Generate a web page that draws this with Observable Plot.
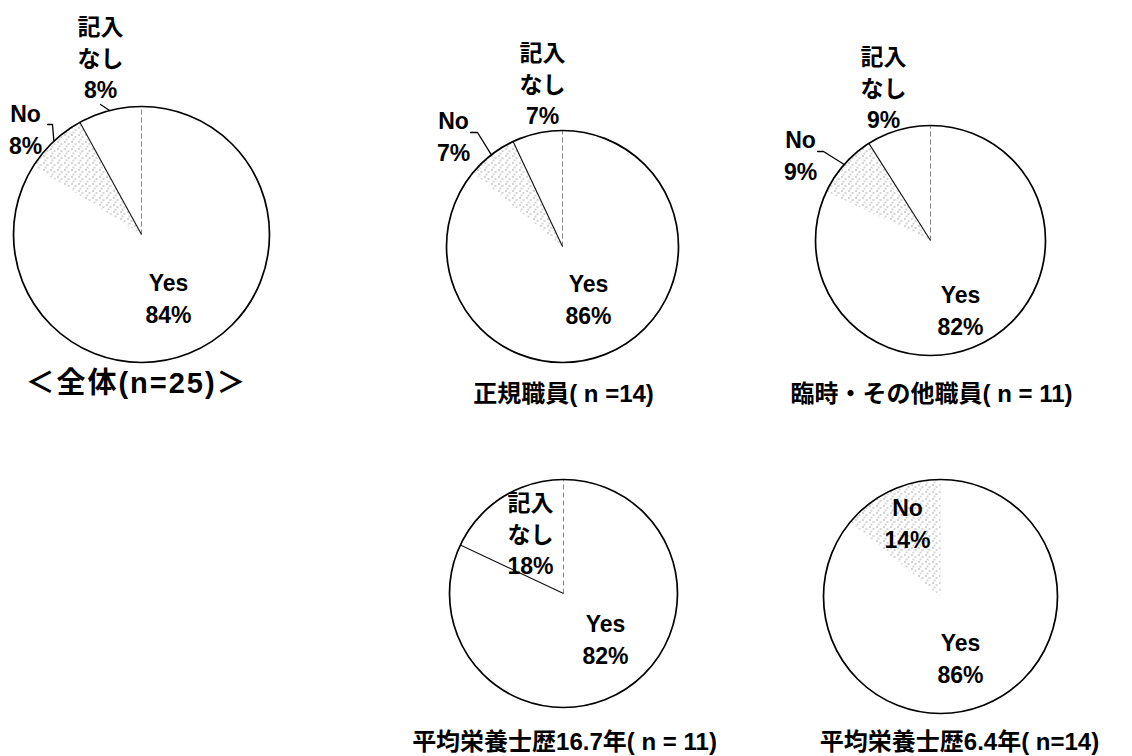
<!DOCTYPE html>
<html><head><meta charset="utf-8">
<script src="https://cdn.jsdelivr.net/npm/d3@7"></script>
<script src="https://cdn.jsdelivr.net/npm/@observablehq/plot@0.6"></script>
<style>body{margin:0;background:#fff}</style>
</head><body><div id="chart"></div>
<script>
// ---- data ----
const groups = ["＜全体(n=25)＞", "正規職員( n =14)", "臨時・その他職員( n = 11)", "平均栄養士歴16.7年( n = 11)", "平均栄養士歴6.4年( n=14)"];
const categories = ["Yes", "No", "記入なし"];
const yesPct = [84, 86, 82, 82, 86];
const noPct = [8, 7, 9, 0, 14];
const blankPct = [8, 7, 9, 18, 0];
const categoryLabels = ["Yes", "No", "記入\nなし"];

// ---- layout (pixels, offsets relative to each pie's centre) ----
const layout = [
  {cx: 141, cy: 234, r: 128, yes: [27, 62], no: [-116, -107], blank: [-41, -178], caption: [-5, 149], capSize: 29,
   noLeader: [[-94, -110], [-89, -110]], blankLeader: [[-41, -130]]},
  {cx: 562, cy: 246, r: 116, yes: [26, 51], no: [-109, -112], blank: [-20, -164], caption: [1, 148], capSize: 24,
   noLeader: [[-92, -114], [-85, -114]], blankLeader: null},
  {cx: 930, cy: 240, r: 115, yes: [30, 68], no: [-130, -87], blank: [-47, -154], caption: [1, 154], capSize: 24,
   noLeader: [[-113, -89], [-107, -89]], blankLeader: null},
  {cx: 563, cy: 593, r: 114, yes: [42, 44], no: null, blank: [-33, -61], caption: [1, 149], capSize: 24,
   noLeader: null, blankLeader: null},
  {cx: 940, cy: 596, r: 117, yes: [20, 60], no: [-33, -75], blank: null, caption: [19, 146], capSize: 24,
   noLeader: null, blankLeader: null}
];

// ---- derived geometry ----
const pie = d3.pie().sort(null).value(d => d.value).startAngle(0).endAngle(2 * Math.PI);
const polar = (L, a, rr) => [L.cx + rr * Math.sin(a), L.cy - rr * Math.cos(a)];

const noPolys = [], links = [], dashed = [], circles = [], texts = [], leaders = [], captions = [];
groups.forEach((g, i) => {
  const L = layout[i];
  const vals = [yesPct[i], noPct[i], blankPct[i]];
  const arcs = pie(categories.map((c, k) => ({cat: c, value: vals[k], k})));
  circles.push({x: L.cx, y: L.cy, r: L.r});
  captions.push({x: L.cx + L.caption[0], y: L.cy + L.caption[1], text: g, size: L.capSize});
  arcs.forEach(a => {
    const v = a.data.value, k = a.data.k;
    if (v <= 0) return;
    const mid = (a.startAngle + a.endAngle) / 2;
    if (k === 1) {
      const n = Math.max(4, Math.ceil((a.endAngle - a.startAngle) / 0.02));
      const pts = [[L.cx, L.cy]];
      for (let j = 0; j <= n; j++) pts.push(polar(L, a.startAngle + (a.endAngle - a.startAngle) * j / n, L.r));
      pts.push([L.cx, L.cy]);
      pts.forEach(p => noPolys.push({x: p[0], y: p[1], id: i}));
    }
    if (k === 2) {
      const p = polar(L, a.startAngle, L.r);
      links.push({x1: L.cx, y1: L.cy, x2: p[0], y2: p[1]});
      dashed.push({x1: L.cx, y1: L.cy, x2: L.cx, y2: L.cy - L.r});
    }
    const off = k === 0 ? L.yes : k === 1 ? L.no : L.blank;
    if (off) texts.push({x: L.cx + off[0], y: L.cy + off[1], text: categoryLabels[k] + "\n" + v + "%", k});
    const ld = k === 1 ? L.noLeader : k === 2 ? L.blankLeader : null;
    if (ld) {
      const id = i + "-" + k;
      ld.forEach(p => leaders.push({x: L.cx + p[0], y: L.cy + p[1], id}));
      const e = polar(L, mid, L.r);
      leaders.push({x: e[0], y: e[1], id});
    }
  });
});

const font = "'Liberation Sans', 'Noto Sans CJK JP', sans-serif";
const chart = Plot.plot({
  width: 1132, height: 756, margin: 0,
  style: {background: "#fff"},
  x: {domain: [0, 1132], range: [0, 1132], axis: null},
  y: {domain: [0, 756], range: [0, 756], axis: null},
  r: {type: "identity"},
  marks: [
    Plot.line(noPolys, {x: "x", y: "y", z: "id", fill: "url(#stipple)", stroke: "none", curve: "linear"}),
    Plot.link(dashed, {x1: "x1", y1: "y1", x2: "x2", y2: "y2", stroke: "#777", strokeWidth: 0.9, strokeDasharray: "5,3"}),
    Plot.link(links, {x1: "x1", y1: "y1", x2: "x2", y2: "y2", stroke: "#111", strokeWidth: 1.1}),
    Plot.dot(circles, {x: "x", y: "y", r: "r", fill: "none", stroke: "#000", strokeWidth: 1.7}),
    Plot.line(leaders, {x: "x", y: "y", z: "id", stroke: "#000", strokeWidth: 1.3}),
    Plot.text(texts, {x: "x", y: "y", text: "text", fontSize: 23, fontWeight: "bold", fontFamily: font,
      lineHeight: 1.38, textAnchor: "middle", fill: "#000"}),
    Plot.text(captions, {x: "x", y: "y", text: "text", fontSize: d => d.size, fontWeight: "bold",
      fontFamily: font, textAnchor: "middle", fill: "#000"})
  ]
});

// wider tracking for the overall title, as in the reference
d3.select(chart).selectAll("text")
  .filter(function () { return this.textContent === groups[0]; })
  .style("letter-spacing", "2px");

// stipple pattern for the "No" slices
const ns = "http://www.w3.org/2000/svg";
const defs = document.createElementNS(ns, "defs");
const pat = document.createElementNS(ns, "pattern");
pat.setAttribute("id", "stipple");
pat.setAttribute("patternUnits", "userSpaceOnUse");
pat.setAttribute("width", 7); pat.setAttribute("height", 7);
const bg = document.createElementNS(ns, "rect");
bg.setAttribute("width", 7); bg.setAttribute("height", 7); bg.setAttribute("fill", "#fff");
pat.appendChild(bg);
[[1, 1], [4.5, 3], [2.5, 5.5]].forEach(([cx, cy]) => {
  const c = document.createElementNS(ns, "rect");
  c.setAttribute("x", cx); c.setAttribute("y", cy); c.setAttribute("width", 1); c.setAttribute("height", 1);
  c.setAttribute("fill", "#555");
  pat.appendChild(c);
});
defs.appendChild(pat);
chart.insertBefore(defs, chart.firstChild);
document.getElementById("chart").appendChild(chart);
</script>
</body></html>
